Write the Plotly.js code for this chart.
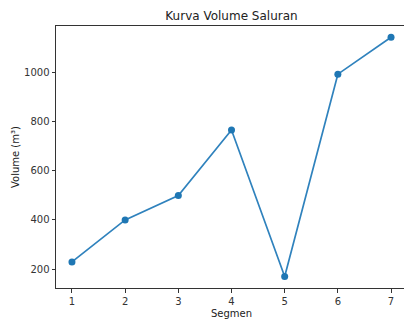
<!DOCTYPE html>
<html>
<head>
<meta charset="utf-8">
<script src="https://cdn.plot.ly/plotly-3.0.1.min.js"></script>
<style>html,body{margin:0;padding:0;overflow:hidden;background:#fff;}#chart{width:408px;height:320px;}</style>
</head>
<body>
<div id="chart"></div>
<script>
const segments = [1, 2, 3, 4, 5, 6, 7];
const volumes = [229, 400, 499, 766, 170, 993, 1143];
const yTicks = [200, 400, 600, 800, 1000];

const axisCommon = {
  showline: true, linecolor: '#333', linewidth: 1, mirror: true,
  ticks: 'outside', ticklen: 3.5, tickwidth: 1, tickcolor: '#333',
  showgrid: false, zeroline: false,
  tickfont: {family: 'DejaVu Sans', size: 10, color: '#333'}
};

Plotly.newPlot('chart', [{
  x: segments, y: volumes, type: 'scatter', mode: 'lines+markers',
  line: {color: '#2f82bd', width: 1.7},
  marker: {color: '#1f77b4', size: 7}
}], {
  width: 408, height: 320,
  margin: {l: 56, r: 1, t: 26, b: 32},
  paper_bgcolor: '#fff', plot_bgcolor: '#fff',
  showlegend: false,
  title: {text: 'Kurva Volume Saluran', font: {family: 'DejaVu Sans', size: 12, color: '#222'},
          xref: 'paper', x: 0.5, xanchor: 'center', yref: 'container', y: 1 - 15.7/320, yanchor: 'middle'},
  xaxis: Object.assign({}, axisCommon, {range: [0.7, 7.3], tickvals: segments, ticktext: segments.map(String)}),
  yaxis: Object.assign({}, axisCommon, {range: [123, 1189], tickvals: yTicks, ticktext: yTicks.map(String)}),
  annotations: [
    {text: 'Segmen', xref: 'paper', yref: 'paper', x: 0.5, y: -25/262, xanchor: 'center', yanchor: 'middle',
     showarrow: false, font: {family: 'DejaVu Sans', size: 10, color: '#222'}},
    {text: 'Volume (m³)', xref: 'paper', yref: 'paper', x: -41/351, y: 0.5, xanchor: 'center', yanchor: 'middle',
     textangle: -90, showarrow: false, font: {family: 'DejaVu Sans', size: 10, color: '#222'}}
  ]
}, {staticPlot: true, displayModeBar: false});
</script>
</body>
</html>
